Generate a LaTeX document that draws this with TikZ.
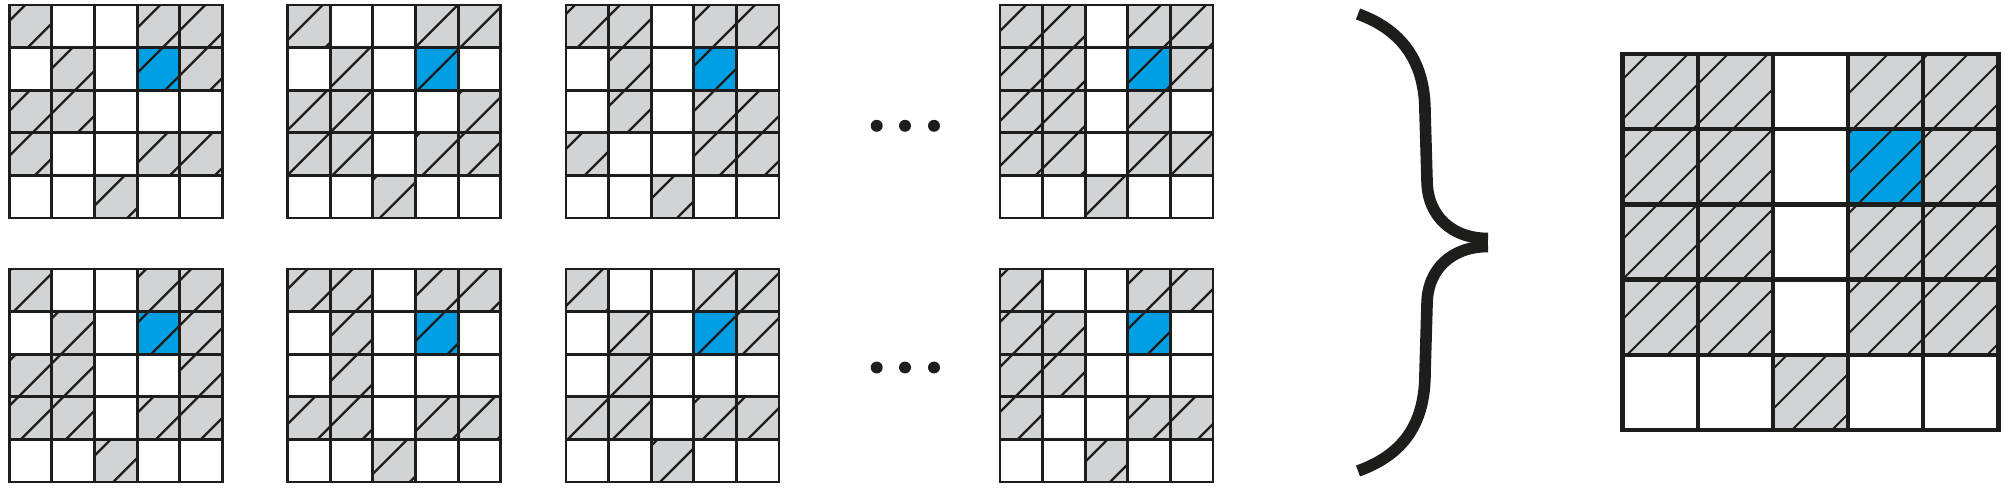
\documentclass[tikz,border=0pt]{standalone}
\usepackage{tikz}
\definecolor{inkc}{HTML}{1D1D1B}
\definecolor{grayc}{HTML}{D1D3D4}
\definecolor{bluec}{HTML}{009FE3}
\tikzset{
  cellG/.style={fill=grayc},
  cellB/.style={fill=bluec},
  cellW/.style={fill=white},
  gridline/.style={draw=inkc, line width=0.82pt, line cap=rect},
  hatch/.style={draw=inkc, line width=0.68pt},
  smallgrid/.style={},
  biggrid/.style={gridline/.style={draw=inkc, line width=1.2pt, line cap=rect},
                  hatch/.style={draw=inkc, line width=0.55pt}},
  dotnode/.style={circle, fill=inkc, inner sep=0pt, minimum size=3.4pt},
  bracestroke/.style={draw=inkc, line width=3.3pt, line cap=butt}
}
% #1 style, #2 x0, #3 y0, #4 cell size, #5 hatch spacing (in x+y), #6 hatch phase, #7 rows
\newcommand\drawgrid[7][smallgrid]{%
  \begin{scope}[#1]
    \foreach \rowspec [count=\ri from 0] in {#7} {
      \foreach \cc [count=\ci from 0] in \rowspec {
        \path[cell\cc] ({#2+\ci*#4},{#3+\ri*#4}) rectangle ++(#4,#4);
        \if\cc W\else
          \begin{scope}
            \clip ({#2+\ci*#4},{#3+\ri*#4}) rectangle ++(#4,#4);
            \foreach \j in {0,...,19} {
              \draw[hatch] ({#2+#6+\j*#5+50},{#3-50}) -- ++(-700,700);
            }
          \end{scope}
        \fi
      }
    }
    \foreach \i in {1,...,4} {
      \draw[gridline] ({#2+\i*#4},#3) -- ++(0,{5*#4});
      \draw[gridline] (#2,{#3+\i*#4}) -- ++({5*#4},0);
    }
    \draw[gridline] (#2,#3) rectangle ++({5*#4},{5*#4});
  \end{scope}
}
\begin{document}
\begin{tikzpicture}[x=0.01cm,y=-0.01cm]
\useasboundingbox (0,0) rectangle (2009,488);
% top row
\drawgrid{9.3}{5}{42.6}{45}{16}{{G,W,W,G,G},{W,G,W,B,G},{G,G,W,W,W},{G,W,W,G,G},{W,W,G,W,W}}
\drawgrid{287.7}{5}{42.6}{45}{35}{{G,W,W,G,G},{W,G,W,B,W},{G,G,W,W,G},{G,G,W,G,G},{W,W,G,W,W}}
\drawgrid{566}{5}{42.6}{45}{9}{{G,G,W,G,G},{W,G,W,B,W},{W,G,W,G,G},{G,W,W,G,G},{W,W,G,W,W}}
\drawgrid{1000}{5}{42.6}{45}{26}{{G,G,W,G,G},{G,G,W,B,G},{G,G,W,G,W},{G,G,W,G,G},{W,W,G,W,W}}
% bottom row
\drawgrid{9.3}{269}{42.6}{45}{2}{{G,W,W,G,G},{W,G,W,B,G},{G,G,W,W,G},{G,G,W,G,G},{W,W,G,W,W}}
\drawgrid{287.7}{269}{42.6}{45}{20}{{G,G,W,G,G},{W,G,W,B,W},{W,G,W,W,W},{G,G,W,G,G},{W,W,G,W,W}}
\drawgrid{566}{269}{42.6}{45}{37}{{G,W,W,G,G},{W,G,W,B,G},{W,G,W,W,W},{G,G,W,G,G},{W,W,G,W,W}}
\drawgrid{1000}{269}{42.6}{45}{8}{{G,W,W,G,G},{G,G,W,B,W},{G,G,W,W,W},{G,W,W,G,G},{W,W,G,W,W}}
% result grid
\drawgrid[biggrid]{1622.5}{54}{75.2}{40}{25.5}{{G,G,W,G,G},{G,G,W,B,G},{G,G,W,G,G},{G,G,W,G,G},{W,W,G,W,W}}
% ellipsis dots
\node[dotnode] (t1) at (876.7,125.8) {};
\node[dotnode] (t2) at (905,125.8) {};
\node[dotnode] (t3) at (934,125.8) {};
\node[dotnode] (b1) at (876.7,367.5) {};
\node[dotnode] (b2) at (905,367.5) {};
\node[dotnode] (b3) at (934,367.5) {};
% brace
\coordinate (btop) at (1358,14);
\coordinate (btipu) at (1488,238.5);
\coordinate (btipl) at (1488,246.5);
\coordinate (bbot) at (1358,471);
\draw[bracestroke] (btop) .. controls (1405,31) and (1425,65) .. (1425,112)
  -- (1427,180) .. controls (1427,216) and (1452,238.5) .. (btipu);
\draw[bracestroke] (btipl) .. controls (1452,246.5) and (1427,269) .. (1427,305)
  -- (1425,373) .. controls (1425,422) and (1405,454) .. (bbot);
\end{tikzpicture}
\end{document}
